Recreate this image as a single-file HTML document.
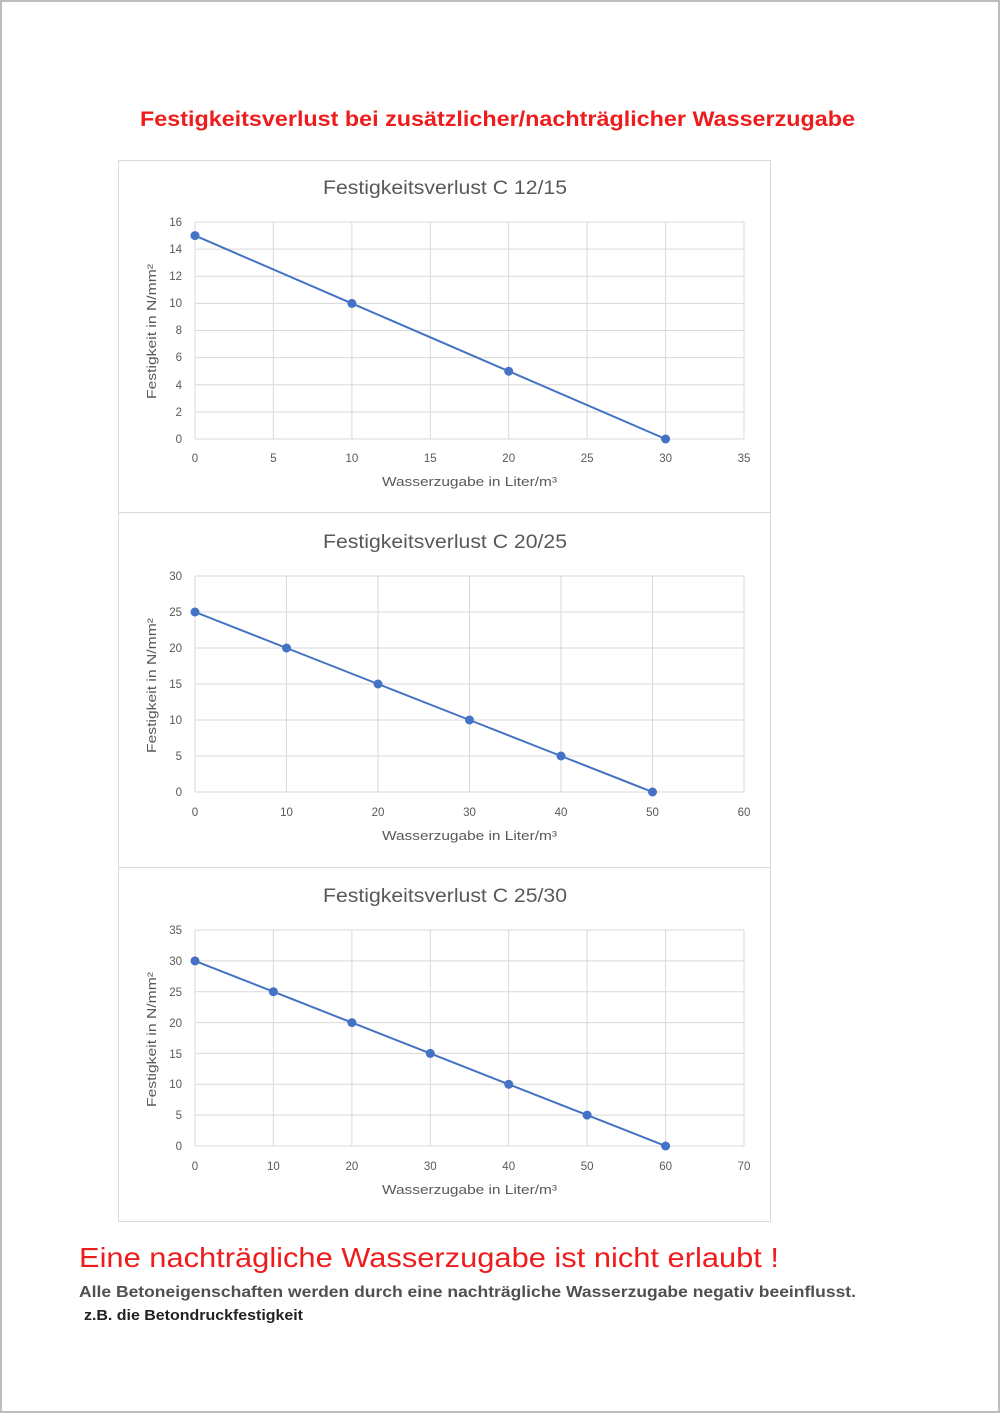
<!DOCTYPE html>
<html><head><meta charset="utf-8"><style>
html,body{margin:0;padding:0;background:#fff}
svg{display:block}
.t{font-family:"Liberation Sans",sans-serif;fill:#595959}
.tk{font-size:11.5px}
.ti{font-size:19px}
.al{font-size:12.5px}
.g{stroke:#d9d9d9;stroke-width:1}
.ln{stroke:#4472c4;stroke-width:2;fill:none}
.pt{fill:#4472c4}
</style></head><body>
<svg width="1000" height="1413" viewBox="0 0 1000 1413">
<rect x="1" y="1" width="998" height="1411" fill="#fff" stroke="#bdbdbd" stroke-width="2"/>
<text x="140" y="126" font-family="Liberation Sans,sans-serif" font-weight="bold" font-size="21" fill="#ee1c1c" textLength="715" lengthAdjust="spacingAndGlyphs">Festigkeitsverlust bei zusätzlicher/nachträglicher Wasserzugabe</text>
<rect x="118.5" y="160.5" width="652" height="1061" fill="#fff" stroke="#d9d9d9"/>
<line x1="118" y1="512.5" x2="770" y2="512.5" class="g"/>
<line x1="118" y1="867.5" x2="770" y2="867.5" class="g"/>

<!-- Chart 1 -->
<text x="323" y="194" class="t ti" textLength="244" lengthAdjust="spacingAndGlyphs">Festigkeitsverlust C 12/15</text>
<g class="g">
<line x1="195" y1="222" x2="744" y2="222"/><line x1="195" y1="249.1" x2="744" y2="249.1"/><line x1="195" y1="276.25" x2="744" y2="276.25"/><line x1="195" y1="303.4" x2="744" y2="303.4"/><line x1="195" y1="330.5" x2="744" y2="330.5"/><line x1="195" y1="357.6" x2="744" y2="357.6"/><line x1="195" y1="384.75" x2="744" y2="384.75"/><line x1="195" y1="411.9" x2="744" y2="411.9"/><line x1="195" y1="439" x2="744" y2="439"/>
<line x1="195" y1="222" x2="195" y2="439"/><line x1="273.4" y1="222" x2="273.4" y2="439"/><line x1="351.9" y1="222" x2="351.9" y2="439"/><line x1="430.3" y1="222" x2="430.3" y2="439"/><line x1="508.7" y1="222" x2="508.7" y2="439"/><line x1="587.1" y1="222" x2="587.1" y2="439"/><line x1="665.6" y1="222" x2="665.6" y2="439"/><line x1="744" y1="222" x2="744" y2="439"/>
</g>
<g class="t tk" text-anchor="end">
<text x="182" y="226">16</text><text x="182" y="253">14</text><text x="182" y="280">12</text><text x="182" y="307">10</text><text x="182" y="334">8</text><text x="182" y="361">6</text><text x="182" y="389">4</text><text x="182" y="416">2</text><text x="182" y="443">0</text>
</g>
<g class="t tk" text-anchor="middle">
<text x="195" y="462">0</text><text x="273.4" y="462">5</text><text x="351.9" y="462">10</text><text x="430.3" y="462">15</text><text x="508.7" y="462">20</text><text x="587.1" y="462">25</text><text x="665.6" y="462">30</text><text x="744" y="462">35</text>
</g>
<text x="382" y="486" class="t al" textLength="175" lengthAdjust="spacingAndGlyphs">Wasserzugabe in Liter/m³</text>
<text transform="translate(156,399) rotate(-90)" class="t al" textLength="135" lengthAdjust="spacingAndGlyphs">Festigkeit in N/mm²</text>
<polyline class="ln" points="195,235.6 351.9,303.4 508.7,371.2 665.6,439"/>
<g class="pt"><circle cx="195" cy="235.6" r="4.5"/><circle cx="351.9" cy="303.4" r="4.5"/><circle cx="508.7" cy="371.2" r="4.5"/><circle cx="665.6" cy="439" r="4.5"/></g>

<!-- Chart 2 -->
<text x="323" y="548" class="t ti" textLength="244" lengthAdjust="spacingAndGlyphs">Festigkeitsverlust C 20/25</text>
<g class="g">
<line x1="195" y1="576" x2="744" y2="576"/><line x1="195" y1="612" x2="744" y2="612"/><line x1="195" y1="648" x2="744" y2="648"/><line x1="195" y1="684" x2="744" y2="684"/><line x1="195" y1="720" x2="744" y2="720"/><line x1="195" y1="756" x2="744" y2="756"/><line x1="195" y1="792" x2="744" y2="792"/>
<line x1="195" y1="576" x2="195" y2="792"/><line x1="286.5" y1="576" x2="286.5" y2="792"/><line x1="378" y1="576" x2="378" y2="792"/><line x1="469.5" y1="576" x2="469.5" y2="792"/><line x1="561" y1="576" x2="561" y2="792"/><line x1="652.5" y1="576" x2="652.5" y2="792"/><line x1="744" y1="576" x2="744" y2="792"/>
</g>
<g class="t tk" text-anchor="end">
<text x="182" y="580">30</text><text x="182" y="616">25</text><text x="182" y="652">20</text><text x="182" y="688">15</text><text x="182" y="724">10</text><text x="182" y="760">5</text><text x="182" y="796">0</text>
</g>
<g class="t tk" text-anchor="middle">
<text x="195" y="816">0</text><text x="286.5" y="816">10</text><text x="378" y="816">20</text><text x="469.5" y="816">30</text><text x="561" y="816">40</text><text x="652.5" y="816">50</text><text x="744" y="816">60</text>
</g>
<text x="382" y="840" class="t al" textLength="175" lengthAdjust="spacingAndGlyphs">Wasserzugabe in Liter/m³</text>
<text transform="translate(156,753) rotate(-90)" class="t al" textLength="135" lengthAdjust="spacingAndGlyphs">Festigkeit in N/mm²</text>
<polyline class="ln" points="195,612 286.5,648 378,684 469.5,720 561,756 652.5,792"/>
<g class="pt"><circle cx="195" cy="612" r="4.5"/><circle cx="286.5" cy="648" r="4.5"/><circle cx="378" cy="684" r="4.5"/><circle cx="469.5" cy="720" r="4.5"/><circle cx="561" cy="756" r="4.5"/><circle cx="652.5" cy="792" r="4.5"/></g>

<!-- Chart 3 -->
<text x="323" y="902" class="t ti" textLength="244" lengthAdjust="spacingAndGlyphs">Festigkeitsverlust C 25/30</text>
<g class="g">
<line x1="195" y1="930" x2="744" y2="930"/><line x1="195" y1="960.9" x2="744" y2="960.9"/><line x1="195" y1="991.7" x2="744" y2="991.7"/><line x1="195" y1="1022.6" x2="744" y2="1022.6"/><line x1="195" y1="1053.4" x2="744" y2="1053.4"/><line x1="195" y1="1084.3" x2="744" y2="1084.3"/><line x1="195" y1="1115.1" x2="744" y2="1115.1"/><line x1="195" y1="1146" x2="744" y2="1146"/>
<line x1="195" y1="930" x2="195" y2="1146"/><line x1="273.4" y1="930" x2="273.4" y2="1146"/><line x1="351.9" y1="930" x2="351.9" y2="1146"/><line x1="430.3" y1="930" x2="430.3" y2="1146"/><line x1="508.7" y1="930" x2="508.7" y2="1146"/><line x1="587.1" y1="930" x2="587.1" y2="1146"/><line x1="665.6" y1="930" x2="665.6" y2="1146"/><line x1="744" y1="930" x2="744" y2="1146"/>
</g>
<g class="t tk" text-anchor="end">
<text x="182" y="934">35</text><text x="182" y="965">30</text><text x="182" y="996">25</text><text x="182" y="1027">20</text><text x="182" y="1058">15</text><text x="182" y="1088">10</text><text x="182" y="1119">5</text><text x="182" y="1150">0</text>
</g>
<g class="t tk" text-anchor="middle">
<text x="195" y="1170">0</text><text x="273.4" y="1170">10</text><text x="351.9" y="1170">20</text><text x="430.3" y="1170">30</text><text x="508.7" y="1170">40</text><text x="587.1" y="1170">50</text><text x="665.6" y="1170">60</text><text x="744" y="1170">70</text>
</g>
<text x="382" y="1194" class="t al" textLength="175" lengthAdjust="spacingAndGlyphs">Wasserzugabe in Liter/m³</text>
<text transform="translate(156,1107) rotate(-90)" class="t al" textLength="135" lengthAdjust="spacingAndGlyphs">Festigkeit in N/mm²</text>
<polyline class="ln" points="195,960.9 273.4,991.7 351.9,1022.6 430.3,1053.4 508.7,1084.3 587.1,1115.1 665.6,1146"/>
<g class="pt"><circle cx="195" cy="960.9" r="4.5"/><circle cx="273.4" cy="991.7" r="4.5"/><circle cx="351.9" cy="1022.6" r="4.5"/><circle cx="430.3" cy="1053.4" r="4.5"/><circle cx="508.7" cy="1084.3" r="4.5"/><circle cx="587.1" cy="1115.1" r="4.5"/><circle cx="665.6" cy="1146" r="4.5"/></g>

<text x="79" y="1267" font-family="Liberation Sans,sans-serif" font-size="28" fill="#ee1c1c" textLength="700" lengthAdjust="spacingAndGlyphs">Eine nachträgliche Wasserzugabe ist nicht erlaubt !</text>
<text x="79" y="1297" font-family="Liberation Sans,sans-serif" font-weight="bold" font-size="16" fill="#505050" textLength="777" lengthAdjust="spacingAndGlyphs">Alle Betoneigenschaften werden durch eine nachträgliche Wasserzugabe negativ beeinflusst.</text>
<text x="84" y="1320" font-family="Liberation Sans,sans-serif" font-weight="bold" font-size="15" fill="#222" textLength="219" lengthAdjust="spacingAndGlyphs">z.B. die Betondruckfestigkeit</text>
</svg>
</body></html>
